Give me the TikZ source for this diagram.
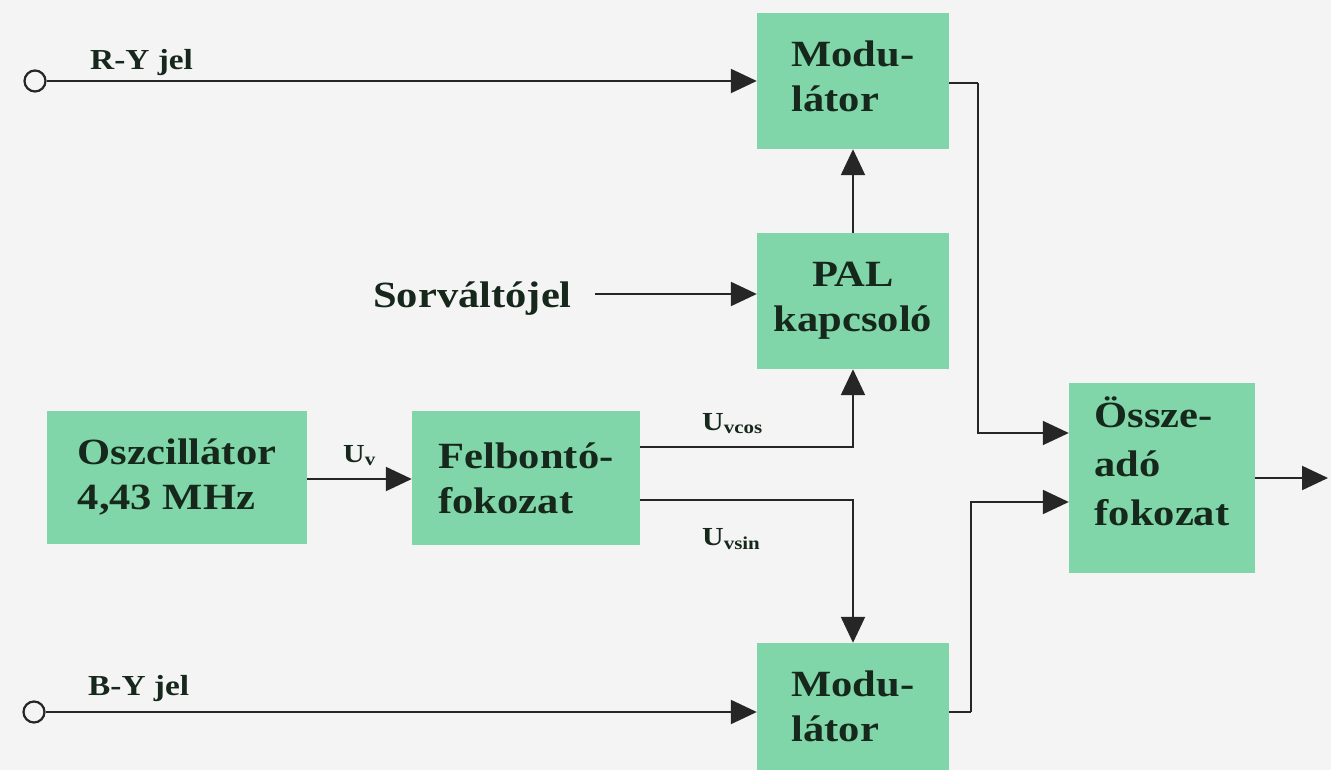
\documentclass[tikz,border=0pt]{standalone}
\usepackage{fontspec}
\setmainfont[FakeStretch=1.15]{Liberation Serif}
\usetikzlibrary{arrows.meta,calc}
\definecolor{bg}{RGB}{244,244,244}
\definecolor{boxfill}{RGB}{128,214,168}
\definecolor{ink}{RGB}{22,40,28}
\definecolor{wire}{RGB}{38,38,38}
\tikzset{
  blk/.style={fill=boxfill, draw=none, text=ink, font=\fontsize{37}{45}\selectfont\bfseries, align=left, inner sep=0pt},
  blktext/.style={text=ink, font=\fontsize{37}{49}\selectfont\bfseries, align=left, inner sep=0pt},
  arr/.style={draw=wire, line width=2.2pt, -{Triangle[length=26pt,width=24pt]}},
  wireline/.style={draw=wire, line width=2.2pt},
  lbl/.style={text=ink, font=\fontsize{29}{34}\selectfont\bfseries, inner sep=0pt},
  ulbl/.style={text=ink, font=\fontsize{26}{30}\selectfont\bfseries, inner sep=0pt},
  term/.style={circle, draw=wire, line width=2.2pt, minimum size=21pt, inner sep=0pt, fill=bg}
}
\begin{document}
\begin{tikzpicture}[x=1pt,y=-1pt]
\useasboundingbox (0,0) rectangle (1331,770);
\fill[bg] (0,0) rectangle (1331,770);

% blocks
\node[blk, minimum width=192pt, minimum height=136pt] (modA) at (853,81) {};
\node[blktext, font=\fontsize{37}{45}\selectfont\bfseries] (modAtxt) at (853,76) {Modu-\\látor};
\node[blk, minimum width=192pt, minimum height=136pt, align=center] (pal) at (853,301) {PAL\\kapcsoló};
\node[blk, minimum width=260pt, minimum height=133pt] (osc) at (177,477.5) {Oszcillátor\\4,43 MHz};
\node[blk, minimum width=228pt, minimum height=134pt] (felb) at (526,478) {Felbontó-\\fokozat};
\node[blk, minimum width=186pt, minimum height=190pt] (ossz) at (1162,478) {};
\node[blktext] (ossztxt) at (1162,461) {Össze-\\adó\\fokozat};
\node[blk, minimum width=192pt, minimum height=127pt] (modB) at (853,706.5) {Modu-\\látor};

% terminals
\node[term] (ry) at (35,81) {};
\node[term] (by) at (34,712) {};
\node[lbl, anchor=base west] (rylbl) at (90,70) {R-Y jel};
\node[lbl, anchor=base west] (bylbl) at (88,695) {B-Y jel};

\draw[arr] (ry.east) -- (ry.east -| modA.west);
\draw[arr] (by.east) -- (by.east -| modB.west);

% Sorvaltojel
\node[text=ink, font=\fontsize{37}{45}\selectfont\bfseries, inner sep=0pt, anchor=base west] (sorv) at (373,307) {Sorváltójel};
\coordinate (sv) at (595,294);
\draw[arr] (sv) -- (sv -| pal.west);

% PAL -> modulator
\draw[arr] (pal.north) -- (modA.south);

% Uv
\draw[arr] (osc.east |- 0,479) -- (felb.west |- 0,479);
\node[ulbl, anchor=base west] (uv) at (343,462) {U\textsubscript{v}};

% Uvcos / Uvsin
\coordinate (cosA) at (felb.east |- 0,447);
\coordinate (sinA) at (felb.east |- 0,500);
\draw[arr] (cosA) -| (pal.south);
\draw[arr] (sinA) -| (modB.north);
\node[ulbl, anchor=base west] (ucos) at (702,430) {U\textsubscript{vcos}};
\node[ulbl, anchor=base west] (usin) at (702,545) {U\textsubscript{vsin}};

% modulators -> osszeado
\coordinate (mA) at (modA.east |- 0,83);
\coordinate (cA) at (978,83);
\draw[wireline, line width=1.8pt] (mA) -- (cA);
\draw[arr, line width=1.8pt] (cA) |- (ossz.west |- 0,433);
\coordinate (mB) at (modB.east |- 0,712);
\coordinate (cB) at (971,712);
\draw[wireline] (mB) -- (cB);
\draw[arr] (cB) |- (ossz.west |- 0,502);

% output
\coordinate (out) at (1328,478);
\draw[arr] (ossz.east) -- (out);
\end{tikzpicture}
\end{document}
